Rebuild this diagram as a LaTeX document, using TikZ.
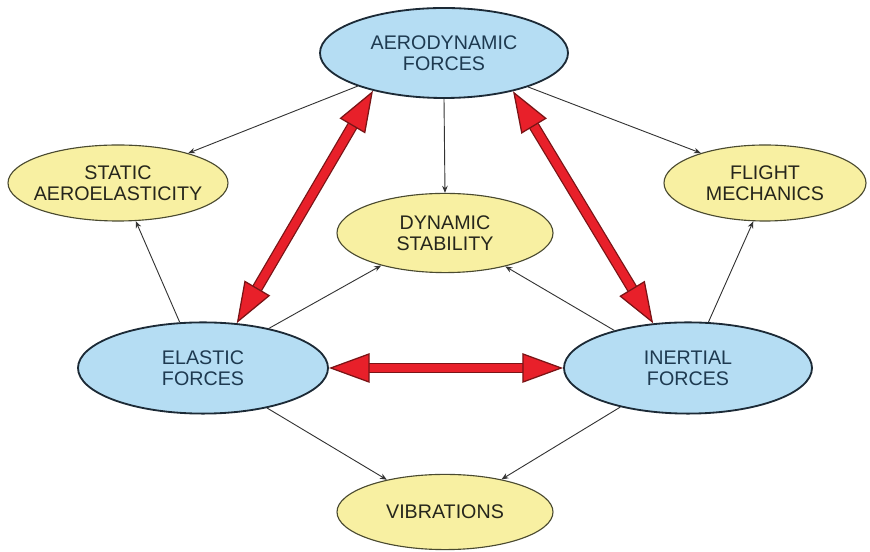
\documentclass[tikz,border=0pt]{standalone}
\usepackage{fontspec}
\setmainfont{Liberation Sans}
\usetikzlibrary{shapes.geometric, arrows.meta}

\definecolor{forceblue}{HTML}{B5DDF3}
\definecolor{forceline}{HTML}{1C2A36}
\definecolor{forcetext}{HTML}{1E3A50}
\definecolor{topicyellow}{HTML}{F8F0A2}
\definecolor{topicline}{HTML}{4A4A30}
\definecolor{topictext}{HTML}{26261C}
\definecolor{arrowred}{HTML}{E8202A}
\definecolor{arrowdark}{HTML}{7A1416}
\definecolor{linkgray}{HTML}{333333}

\begin{document}
\begin{tikzpicture}[
    every node/.style={align=center, inner xsep=-15pt, inner ysep=0pt, font=\fontsize{14}{15}\selectfont},
    force/.style={ellipse, draw=forceline, line width=1.3pt, fill=forceblue, text=forcetext},
    topic/.style={ellipse, draw=topicline, line width=0.8pt, fill=topicyellow, text=topictext},
    link/.style={draw=linkgray, line width=0.65pt, -{Stealth[length=5pt, width=4pt]}},
    bigarrow/.style={draw=arrowdark, line width=0.9pt, double=arrowred, double distance=6pt,
      {Triangle[length=29pt, width=21pt, fill=arrowred, color=arrowdark, line width'=0.9pt]}-%
      {Triangle[length=29pt, width=21pt, fill=arrowred, color=arrowdark, line width'=0.9pt]}}]
  \useasboundingbox (0, 0) rectangle (21.75, 13.8);

  \node[force, minimum width=6.2cm, minimum height=2.25cm]
    (AF) at (11.1, 12.475)
    {AERODYNAMIC\\FORCES};

  \node[topic, minimum width=5.5cm, minimum height=1.9cm]
    (SA) at (2.95, 9.225)
    {STATIC\\AEROELASTICITY};

  \node[topic, minimum width=5.05cm, minimum height=1.9cm]
    (FM) at (19.125, 9.225)
    {FLIGHT\\MECHANICS};

  \node[topic, minimum width=5.4cm, minimum height=1.98cm]
    (DS) at (11.125, 7.975)
    {DYNAMIC\\STABILITY};

  \node[force, minimum width=6.25cm, minimum height=2.28cm]
    (EF) at (5.075, 4.6)
    {ELASTIC\\FORCES};

  \node[force, minimum width=6.2cm, minimum height=2.28cm]
    (IF) at (17.2, 4.6)
    {INERTIAL\\FORCES};

  \node[topic, minimum width=5.4cm, minimum height=1.88cm]
    (V) at (11.125, 1.0)
    {VIBRATIONS};

  % thin links
  \draw[link] (AF.201) -- (SA.23);
  \draw[link] (AF.338) -- (FM.155);
  \draw[link] (AF.south) -- (DS.north);
  \draw[link] (EF.117) -- (SA.295);
  \draw[link] (IF.66) -- (FM.253);
  \draw[link] (EF.31) -- (DS.207);
  \draw[link] (IF.153) -- (DS.331);
  \draw[link] (EF.328) -- (V.151);
  \draw[link] (IF.210) -- (V.30);

  % force couplings
  \draw[bigarrow] (AF.208) -- (EF.53);
  \draw[bigarrow] (AF.331) -- (IF.128);
  \draw[bigarrow] (EF.east) -- (IF.west);

\end{tikzpicture}
\end{document}
